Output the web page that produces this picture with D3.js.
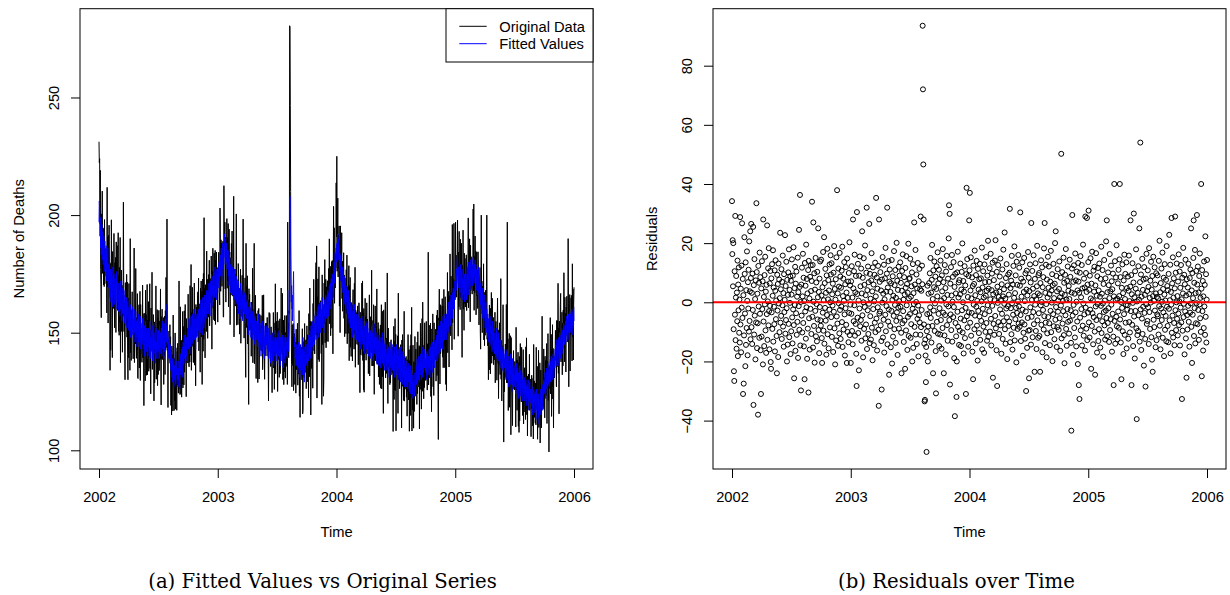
<!DOCTYPE html>
<html><head><meta charset="utf-8">
<script src="https://cdn.jsdelivr.net/npm/d3@7"></script>
<style>body{margin:0;background:#fff}svg{display:block}</style>
</head><body>
<svg id="c" width="1230" height="595"></svg>
<script>
// ---- data -------------------------------------------------------------
const startYear = 2002, frequency = 365;          // daily series, ts(start=2002, frequency=365)
const xTickLabels = [2002, 2003, 2004, 2005, 2006];
const deathTicks = [100, 150, 200, 250];
const residTicks = [-40, -20, 0, 20, 40, 60, 80];
const legendLabels = ["Original Data", "Fitted Values"];
const captions = ["(a) Fitted Values vs Original Series", "(b) Residuals over Time"];

const fitted2002 = [
197,206,203,191,199,186,194,183,190,196,181,188,193,179,186,191,176,184,189,178,185,174,187,180,172,183,177,186,171,179,174,
169,180,172,165,177,170,163,176,168,174,161,171,178,166,169,175,162,170,173,164,171,160,168,176,165,163,172,166,
166,159,171,163,168,157,165,172,160,167,162,155,169,161,158,164,172,157,166,160,154,168,159,163,156,165,158,152,163,157,161,
160,151,157,164,150,155,162,148,158,153,147,159,152,161,149,156,145,154,160,150,157,146,153,159,148,155,150,144,156,151,
153,146,158,149,144,155,150,143,157,148,152,141,154,147,156,145,151,158,143,149,153,140,148,155,146,150,142,152,147,139,151,
144,152,146,140,150,155,143,148,139,151,146,142,153,145,138,149,144,154,141,147,143,150,137,148,152,142,146,139,151,145,
149,142,151,145,139,153,146,141,150,144,145,152,140,148,155,143,150,146,139,154,147,142,151,156,144,149,153,146,162,157,145,
148,141,146,139,150,143,137,145,140,134,142,141,131,139,135,129,138,133,127,136,136,130,139,148,128,138,132,133,135,130,133,
127,135,130,138,133,126,139,134,141,132,137,143,135,131,144,138,146,136,141,149,139,144,137,150,143,140,148,145,138,151,
145,152,143,149,156,147,141,153,150,144,157,148,152,146,158,151,145,155,149,160,153,147,156,150,143,158,152,148,157,154,150,
158,151,160,154,148,162,156,150,159,164,153,157,163,149,158,165,155,160,152,161,157,166,154,159,163,156,161,168,158,164,
160,167,158,164,171,162,168,157,165,172,163,169,175,161,170,166,174,168,163,176,169,165,173,178,167,171,175,164,177,172,168];
const fitted2003 = [
175,169,178,172,180,167,176,175,183,174,179,186,172,181,177,188,180,174,185,182,189,192,184,179,190,186,180,188,183,177,185,
178,185,174,181,170,183,176,172,179,167,175,182,169,174,178,166,173,170,176,164,171,177,165,172,168,162,174,167,
163,170,160,166,172,158,167,162,169,156,165,171,160,164,157,168,161,166,155,163,170,159,164,158,167,161,154,166,160,156,163,
158,164,153,160,155,149,161,156,151,163,154,158,148,157,162,150,155,159,147,153,160,149,156,151,145,157,152,148,155,150,
147,155,150,144,153,158,146,151,142,149,154,145,150,140,152,147,143,155,148,141,150,146,153,139,148,144,151,142,149,153,145,
150,143,147,140,152,145,139,148,154,142,146,137,149,144,151,141,147,138,145,150,143,136,148,142,146,140,151,144,138,147,
141,148,144,137,150,146,140,145,151,139,143,148,136,147,142,150,138,144,149,141,135,146,142,148,139,144,137,149,143,140,146,
143,148,139,168,158,150,142,147,152,187,208,200,182,172,163,170,160,166,155,163,169,176,158,150,144,148,139,143,136,145,138,
136,144,139,133,142,146,135,140,131,143,138,134,145,137,130,141,136,143,132,148,139,134,142,129,137,144,133,139,136,141,
137,145,140,135,147,142,138,149,144,140,151,143,148,139,153,146,142,155,148,144,152,147,157,150,145,154,149,158,151,147,155,
157,150,159,153,161,148,156,162,151,158,154,163,150,157,160,153,158,165,152,159,162,155,150,161,157,164,154,160,166,158,
162,156,165,159,168,161,157,167,163,170,164,160,171,166,162,173,168,164,175,170,172,167,165,176,180,171,178,184,174,181,186];
const fitted2004 = [
180,188,183,186,192,185,190,181,187,178,184,176,183,179,172,181,175,169,178,173,167,176,170,164,174,168,162,171,166,160,169,
163,170,158,166,161,156,168,160,154,165,159,163,152,161,157,150,162,155,148,159,153,160,149,156,162,151,157,147,155,
152,158,147,155,150,145,157,151,146,153,159,144,150,156,148,143,154,149,157,145,151,147,155,142,150,153,146,141,152,148,155,
149,143,154,147,141,152,146,150,140,148,155,144,149,139,151,146,142,153,145,140,150,147,138,149,154,143,148,141,152,146,
140,148,143,137,150,145,139,147,142,136,149,144,138,146,141,135,148,143,139,145,137,150,141,136,146,142,134,145,140,147,138,
143,136,141,134,145,139,133,144,137,142,131,140,146,135,139,143,132,141,136,145,134,140,138,133,142,137,144,131,139,135,
141,134,139,145,132,137,142,130,140,135,143,131,138,134,144,129,137,141,133,139,128,136,142,131,137,133,140,127,135,138,130,
136,130,134,127,138,132,126,135,129,137,131,125,133,128,136,124,131,127,134,122,129,124,132,126,128,130,127,123,133,128,125,
131,136,128,134,139,127,133,137,130,140,135,129,138,132,141,134,137,130,142,136,131,139,144,133,137,141,135,143,138,134,
139,133,141,136,130,142,137,132,134,140,135,143,138,131,144,139,134,145,137,142,133,146,140,136,144,138,147,141,135,145,143,
146,140,149,143,138,151,145,141,148,153,144,139,150,146,155,142,149,152,145,157,148,143,154,150,146,158,151,147,156,152,
149,156,152,158,147,154,160,151,157,163,155,150,161,158,164,153,160,166,157,162,159,167,156,163,169,161,168,160,166,172,164];
const fitted2005 = [
166,172,168,177,174,180,183,175,171,178,169,176,172,165,174,179,170,167,176,171,164,173,169,177,166,172,168,175,163,170,174,
167,175,170,164,172,178,169,174,180,171,166,175,179,170,173,181,174,168,177,172,179,170,175,182,173,177,171,179,
174,181,176,179,171,177,168,175,173,166,172,178,167,170,164,173,168,162,171,165,160,167,158,164,169,156,163,160,155,166,157,
159,152,157,163,150,155,160,153,148,158,151,156,146,154,149,144,157,150,153,145,151,148,142,155,147,150,143,152,146,141,
145,150,141,147,139,152,144,140,148,137,146,142,150,138,144,141,136,147,139,143,135,145,140,134,142,137,144,133,143,139,136,
135,141,133,139,130,137,142,134,143,131,138,133,127,140,135,129,137,132,141,128,136,130,125,134,139,128,133,126,135,130,
132,127,136,130,124,134,129,137,126,131,135,128,122,133,127,131,136,125,130,134,123,129,132,126,121,130,127,133,124,128,131,
126,121,129,124,130,119,127,123,128,122,125,130,121,126,117,124,129,120,126,122,124,125,119,127,121,115,123,118,126,120,124,
122,116,125,119,113,121,126,117,123,122,119,124,114,120,111,118,122,115,121,126,118,124,120,128,122,117,127,123,130,124,
129,125,133,127,122,131,128,135,126,133,130,137,128,134,132,127,136,131,138,129,134,140,132,137,130,139,134,141,135,131,138,
140,135,143,138,145,136,142,147,139,144,137,146,141,148,136,145,150,142,147,139,149,144,152,141,146,151,143,149,154,146,
151,145,153,148,155,146,152,157,149,154,147,156,150,158,152,147,155,159,150,153,158,151,156,160,149,157,153,159,152,161,155];

const resid2002 = [
34.2,16.3,21.0,5.4,20.0,-9.1,-23.3,-26.6,10.5,-4.2,29.2,-12.8,1.6,8.9,-15.7,3.3,-6.4,14.1,-18.2,6.0,-2.7,11.8,-10.3,0.9,-13.6,28.8,-7.5,4.6,-16.9,12.4,-1.8,
26.7,-5.3,7.9,-31.0,2.4,-27.5,-11.2,22.0,9.6,-3.8,-21.6,13.5,-14.4,4.1,-8.7,17.2,0.5,-17.9,6.8,-2.1,11.0,-9.9,20.6,-6.3,3.7,24.0,-12.5,8.2,
26.5,-8.4,3.2,-14.1,9.7,-2.6,25.5,-34.7,5.8,-10.9,14.6,-4.5,1.1,-19.3,7.4,-6.8,33.5,10.2,-15.5,2.9,-7.1,-38.0,12.3,-1.4,6.6,-12.0,16.8,-3.9,8.5,-16.2,-31.0,
4.7,-11.6,13.9,-2.3,7.1,-21.0,28.0,-6.5,1.8,-14.8,9.2,-0.7,15.4,-9.5,3.6,-17.1,5.9,-4.0,26.0,-12.7,0.3,11.5,-7.8,18.3,-3.0,-15.9,6.4,-1.2,10.6,-20.2,
-22.5,8.1,-3.4,12.9,-9.0,2.2,17.6,-13.3,5.0,-1.5,-7.4,10.8,-16.6,3.9,14.2,-5.7,0.6,-11.4,-24.0,9.3,-2.8,6.2,-18.5,13.1,-0.4,7.7,-10.1,1.4,23.5,-6.9,4.4,
-4.6,11.2,-12.4,6.9,-1.0,15.8,-8.2,3.1,-15.0,9.5,-3.3,0.8,22.7,-10.6,5.5,-6.0,13.7,-2.0,-20.0,7.6,-14.3,2.5,10.1,-7.3,17.9,-11.8,4.2,-0.2,8.8,-17.5,
7.3,-9.8,2.6,14.5,-5.1,-13.9,9.0,-2.4,18.6,-7.7,-25.7,4.8,-0.9,12.0,-16.4,6.3,-3.7,10.4,-11.0,1.9,-6.6,15.1,-18.8,3.4,-1.3,24.5,-9.3,5.2,36.3,-14.6,0.1,
-29.8,6.0,-4.5,11.7,-10.2,2.0,16.4,-7.0,8.3,-14.9,0.4,-26.0,13.3,-3.1,5.6,-12.3,19.5,-1.7,7.9,-19.1,3.0,-8.9,10.9,-30.5,14.0,-5.4,1.3,-16.0,8.6,-2.2,12.5,
3.8,-10.7,7.2,34.0,-4.9,12.6,-15.3,27.0,0.2,-8.0,9.8,-20.4,4.3,-2.9,15.0,-11.5,6.7,-0.6,-13.2,10.3,-5.8,1.7,25.0,-9.4,3.5,-17.2,8.0,-1.6,13.8,-6.1,
-7.9,14.4,2.3,-12.1,-20.5,5.1,-3.5,17.0,-9.6,0.7,22.0,-14.0,6.5,-1.9,11.3,-6.2,3.2,-17.7,9.1,-4.3,18.1,-10.8,1.0,7.5,-15.6,4.0,-2.5,12.8,-8.5,0.0,15.9,
9.4,-5.0,13.2,-11.7,2.7,-1.1,6.3,-16.8,10.0,-3.2,19.0,-8.8,4.5,-21.0,0.9,7.8,-12.9,15.2,-4.8,37.9,-7.2,3.0,-14.7,11.4,-0.3,5.3,-10.5,16.7,-2.6,8.7,
-12.4,4.9,-1.4,10.7,-6.7,18.8,-15.1,2.1,8.0,-9.2,0.5,13.6,-4.1,-18.0,6.1,-2.0,11.9,-7.6,3.3,-20.5,14.8,-10.0,1.5,7.0,-13.5,9.9,-3.6,20.3,-11.1,5.7,-0.8];
const resid2003 = [
-20.5,7.1,-3.9,12.2,-9.7,1.6,-14.2,28.0,4.7,-6.4,10.5,-1.0,16.1,-11.3,3.4,-7.3,8.9,-17.4,-28.3,30.5,2.8,-5.2,13.0,-10.4,0.6,-23.0,9.0,-2.1,15.5,-8.1,5.4,
-6.0,11.4,-13.0,3.0,24.0,-4.4,8.3,-18.6,0.0,14.9,-9.0,5.9,-1.6,19.2,-12.2,2.4,-7.5,10.0,32.0,-15.8,4.1,-2.7,12.1,-10.7,6.8,-0.5,26.5,-13.8,
9.6,-4.7,1.2,-12.6,7.4,16.6,-8.6,3.7,-19.6,11.8,-2.3,6.0,-14.5,0.3,9.3,-6.9,13.4,-10.1,2.0,35.3,-5.5,8.4,-16.3,4.6,-1.7,12.3,-9.3,-35.0,28.0,-3.8,6.9,
-3.1,10.2,-7.8,4.0,-13.1,-29.5,7.7,-0.1,15.3,-11.9,2.9,-5.9,12.7,-17.0,1.0,8.1,-4.2,18.4,-9.8,3.6,-1.3,9.7,32.0,-14.2,5.0,-6.5,13.9,-2.4,-24.5,7.0,
11.1,-8.0,3.5,-15.2,6.4,-2.9,14.3,-20.7,0.8,8.8,-11.6,2.2,-4.6,17.3,-9.1,5.8,-0.9,10.9,-13.7,1.5,-6.3,20.1,-3.4,7.3,-17.8,4.2,-1.8,12.0,-8.9,0.4,9.0,
-5.2,13.5,-1.5,6.6,-10.3,-24.0,3.9,10.6,-7.1,16.2,-3.0,0.9,-13.4,8.5,-6.2,2.6,-22.5,11.6,4.9,-9.5,15.6,-1.0,6.2,-16.1,3.2,-4.9,19.8,-11.4,1.3,7.9,
8.2,-4.0,14.7,-12.0,1.9,-7.4,5.4,10.1,-20.0,-2.2,12.9,-15.4,3.1,-0.6,27.0,-8.3,6.0,-3.3,17.7,-10.9,0.1,9.4,-14.1,4.7,-5.6,13.3,-1.1,-18.3,7.1,-4.4,11.3,
-6.8,4.4,-11.0,29.0,-8.4,3.9,-2.6,12.4,6.1,93.5,72.0,46.6,28.0,-7.5,-14.0,-33.5,-33.0,-12.6,-18.0,-27.0,-15.1,-50.6,-9.8,-4.0,5.6,-20.0,-8.2,2.9,-11.7,6.5,-3.7,
9.8,-1.7,15.0,-5.3,3.3,-13.6,7.6,19.4,-8.0,1.1,-24.0,10.8,-2.8,5.1,13.8,-9.7,-0.4,8.7,-16.5,-30.8,4.5,12.2,-6.6,2.0,16.9,-10.6,6.4,-3.9,11.0,-14.8,
-2.0,7.9,-10.9,14.1,-6.0,0.6,-15.7,9.1,3.7,-8.7,18.0,-3.5,6.8,-24.0,1.4,-11.2,12.6,-4.3,4.8,-17.6,10.4,-0.7,15.7,-7.7,2.5,-13.0,8.0,-1.4,21.6,32.8,-6.0,
29.9,-27.8,6.3,-4.1,11.9,-9.4,2.3,16.0,-13.3,0.2,8.6,-5.0,13.6,-1.6,-18.9,5.2,-38.5,9.6,-7.0,3.0,-11.5,-32.0,-20.0,10.1,-3.2,17.1,-8.3,1.6,6.7,-14.4,
7.5,-9.6,2.7,13.1,-5.5,-14.8,4.3,10.3,-2.7,19.9,-10.2,0.0,7.2,-17.3,3.6,-6.1,12.2,-12.1,5.7,-1.9,-31.0,9.5,38.7,-4.7,14.6,-8.5,1.8,-15.0,8.9,-3.4,27.7];
const resid2004 = [
10.8,37.0,-6.9,4.0,15.2,-11.3,1.3,-3.6,8.4,-16.7,5.5,-26.0,12.4,-0.8,6.2,-9.1,17.5,-4.5,2.4,-13.9,9.2,-1.5,14.0,-7.9,0.5,-19.7,11.3,-2.9,4.3,-10.4,7.8,
-4.8,13.0,-12.7,3.4,8.1,-6.3,0.3,18.5,-15.9,5.0,-2.2,10.5,-8.2,1.6,-17.1,12.8,-4.0,6.8,-10.0,2.2,15.3,-7.0,3.9,-13.0,9.0,-1.0,20.8,-11.7,4.6,
6.9,-3.0,11.5,-9.9,1.0,16.4,-5.6,-14.6,4.1,9.7,-1.2,13.4,-25.5,2.7,-7.3,7.5,-11.0,0.7,14.1,-4.6,21.0,-8.8,3.3,-16.2,10.3,-28.3,5.3,-0.2,12.6,-6.7,1.8,
-10.7,3.6,8.7,-2.4,14.8,-7.8,0.9,-17.4,6.1,-3.9,11.1,-12.4,2.0,17.8,-6.4,4.4,-0.5,23.6,-9.1,1.2,-14.0,8.2,-2.1,12.9,-5.1,-19.2,5.7,-1.3,9.4,-8.0,
2.6,-6.5,10.0,31.6,-13.5,4.8,-2.0,7.3,-10.8,15.7,-0.3,-16.0,6.0,-4.2,12.3,-8.6,1.5,18.9,-12.9,3.1,-5.7,9.1,-1.9,-20.3,13.7,-3.6,5.9,-9.0,0.3,16.0,-7.2,
-1.4,11.7,-8.3,5.6,30.4,-4.3,-13.1,8.0,1.9,-6.8,13.5,-2.5,-18.1,7.0,-10.3,3.5,15.0,-7.5,0.4,-12.3,9.8,-3.1,-30.0,4.3,10.7,-15.4,2.3,-5.3,17.0,-9.6,
8.3,-25.7,3.8,-9.4,12.8,-1.7,6.7,-14.3,26.8,-4.9,0.8,10.6,-11.8,4.6,-3.3,15.9,-7.4,2.1,-23.5,7.9,-0.8,13.2,-9.7,1.0,-15.8,5.4,19.1,-6.1,3.0,-12.0,9.2,
-3.7,9.9,-11.4,2.4,-23.5,6.5,-1.0,14.2,-7.6,0.1,11.8,-16.9,5.1,-2.6,8.5,-9.2,18.2,-4.7,26.8,-13.8,3.2,-6.9,12.7,-0.6,-18.6,7.7,-10.5,1.6,15.4,-5.0,4.9,
12.1,-7.1,2.8,-14.5,7.0,-2.9,17.4,-10.1,4.0,-0.1,9.5,-19.9,5.8,-4.0,13.0,-8.1,1.4,-12.5,6.3,20.0,-5.9,24.0,-1.6,8.9,-15.1,3.7,-8.4,11.2,-3.2,0.6,
-9.3,4.5,13.8,-5.4,1.7,-16.4,8.3,-1.1,50.2,-12.2,3.0,10.2,-7.2,0.5,-3.0,15.1,-11.1,6.6,-20.6,2.5,9.3,-4.4,18.0,-9.0,0.9,-14.7,7.2,-2.3,12.1,-6.6,3.9,
5.5,-10.6,1.1,14.4,-6.2,8.6,-2.7,-13.7,-43.4,3.3,11.4,29.5,-4.5,-17.8,6.9,-0.9,12.5,-8.7,2.9,-11.9,16.5,-3.4,7.4,-14.9,0.2,10.4,-6.5,4.0,-20.9,13.3,
7.0,-28.0,3.2,-32.7,10.0,-5.2,15.6,-9.5,1.7,-2.3,12.6,-14.6,4.7,-7.9,19.5,-0.4,-11.3,8.0,-4.1,5.0,-16.3,29.0,-1.8,9.9,-8.9,3.5,28.5,-12.8,6.0,-3.5,13.6];
const resid2005 = [
31.0,-6.8,4.2,-11.9,9.0,-2.5,14.9,1.3,-22.5,6.3,-8.0,17.1,-3.7,0.7,-14.2,10.7,-5.0,3.6,12.0,-9.9,-24.5,5.7,-1.4,16.6,-6.0,2.2,-17.0,8.8,-0.6,11.6,-13.1,
4.0,-9.1,13.1,-4.6,1.9,-15.3,7.9,-1.2,18.8,-10.4,2.9,-6.4,10.9,-0.4,-18.4,6.2,-3.3,14.3,-7.8,0.6,-12.6,8.1,-2.8,20.6,-5.3,27.7,-11.5,3.4,
-7.0,10.1,-2.0,5.8,-13.4,1.4,16.3,-9.4,3.7,-5.7,12.4,-0.8,7.1,-16.7,4.4,-3.9,9.7,-11.6,-28.0,2.0,40.0,-6.3,13.9,-14.0,0.8,8.4,-4.9,19.3,-8.1,1.2,-12.5,
6.4,-3.1,11.0,-8.6,2.1,14.5,40.0,-5.8,8.5,-13.6,0.1,-26.0,4.9,-1.9,12.8,-9.8,3.1,-17.5,7.4,-4.0,16.1,-11.0,1.1,9.6,-6.9,-0.9,13.5,-15.6,4.8,-2.5,
-1.0,8.7,-12.3,3.9,15.8,-6.7,0.4,-10.2,5.3,27.7,-3.0,9.2,-28.0,2.7,-7.6,13.2,-0.2,-14.8,6.7,30.0,-4.8,1.7,-19.0,10.5,-2.9,4.6,17.9,-8.8,-39.5,0.3,-11.1,
3.2,-9.7,12.2,-4.4,0.9,25.0,-13.3,6.8,54.0,-2.4,9.4,-16.1,1.9,-5.5,14.7,-10.7,4.2,-1.5,7.7,-21.4,11.9,-3.6,2.5,-12.4,-28.5,8.0,-0.7,16.4,-7.3,3.8,
-6.3,10.8,-1.7,5.2,-14.1,18.3,-3.3,1.5,-9.0,7.3,-0.1,13.7,-11.8,4.3,-19.4,8.9,-23.5,2.1,15.4,-5.9,0.5,-8.4,11.8,-2.8,6.0,-15.2,3.0,9.8,-12.8,1.8,-4.1,
9.1,-4.7,1.3,-10.9,14.0,-1.3,20.8,-7.9,3.4,-15.9,6.5,-2.1,11.4,-6.0,0.2,16.8,-12.0,4.5,-3.4,8.3,-18.2,2.6,12.9,-9.3,0.6,-4.6,7.6,-13.2,19.0,-1.5,5.5,
-8.0,4.1,-13.5,9.6,-2.2,22.8,-6.1,0.7,12.7,-17.3,3.5,-0.8,28.5,-10.3,6.4,-4.5,15.2,-11.9,1.6,8.1,-7.0,-14.5,4.7,29.0,-2.7,10.0,-9.4,0.0,13.1,-5.6,
2.1,-11.2,7.0,-3.8,16.2,-7.7,0.3,10.4,-14.6,4.9,-1.8,12.6,-6.8,1.0,-32.7,8.3,-9.6,3.0,18.4,-5.0,-0.5,9.3,-17.6,6.1,-3.1,14.4,-12.2,2.3,-25.5,7.8,-4.3,
-9.2,5.0,-1.2,13.0,-6.6,2.8,-15.0,8.2,-3.5,11.1,-0.4,25.0,-8.3,4.0,-20.5,9.9,-4.2,1.4,15.0,27.7,-11.4,6.6,-2.0,17.7,-13.9,3.1,-7.1,10.6,-0.3,29.5,
6.0,-7.4,12.1,-2.6,3.3,-12.7,8.9,-0.7,16.5,-5.4,1.5,-10.0,40.0,4.6,-25.0,10.9,-3.0,7.2,-16.3,2.0,-8.7,13.8,-1.4,5.9,-11.0,22.3,-4.9,9.5,-13.6,0.9,14.3];

// ---- derived series ----------------------------------------------------
const fitted = [].concat(fitted2002, fitted2003, fitted2004, fitted2005);
const residuals = [].concat(resid2002, resid2003, resid2004, resid2005);
const n = Math.min(fitted.length, residuals.length);
const series = d3.range(n).map(i => ({
  t: startYear + i / frequency,
  fit: fitted[i],
  res: residuals[i],
  obs: fitted[i] + residuals[i]
}));

// ---- layout -------------------------------------------------------------
const FONT = "'Liberation Sans', Arial, Helvetica, sans-serif";
const FS = 14.7;
const svg = d3.select("#c");
const panels = [
  {x0: 80, x1: 593, y0: 8.7, y1: 469, cx: 322.5},
  {x0: 713, x1: 1226, y0: 8.7, y1: 469, cx: 956.5}
];
function rExt(ext) { const r = ext[1] - ext[0]; return [ext[0] - 0.04 * r, ext[1] + 0.04 * r]; }
const tExt = d3.extent(series, d => d.t);

function frame(p, xs, ys, yTicks, yTitle) {
  const g = svg.append("g");
  const ax = g.append("g").attr("transform", `translate(0,${p.y1})`)
    .call(d3.axisBottom(xs).tickValues(xTickLabels).tickFormat(d3.format("d")).tickSize(9).tickSizeOuter(0));
  ax.select(".domain").remove();
  ax.selectAll("line").attr("stroke", "#000").attr("stroke-width", 1);
  ax.selectAll("text").attr("y", 32.7).attr("dy", null)
    .style("font-family", FONT).style("font-size", FS + "px").attr("fill", "#000");
  const ay = g.append("g").attr("transform", `translate(${p.x0},0)`)
    .call(d3.axisLeft(ys).tickValues(yTicks).tickFormat(d3.format("d")).tickSize(9).tickSizeOuter(0));
  ay.select(".domain").remove();
  ay.selectAll("line").attr("stroke", "#000").attr("stroke-width", 1);
  ay.selectAll("text").attr("x", 0).attr("y", 0).attr("dy", null)
    .attr("text-anchor", "middle").attr("transform", "translate(-21,0) rotate(-90)")
    .style("font-family", FONT).style("font-size", FS + "px").attr("fill", "#000");
  g.append("rect").attr("x", p.x0).attr("y", p.y0).attr("width", p.x1 - p.x0).attr("height", p.y1 - p.y0)
    .attr("fill", "none").attr("stroke", "#000").attr("stroke-width", 1);
  g.append("text").attr("x", (p.x0 + p.x1) / 2).attr("y", 537.3).attr("text-anchor", "middle")
    .style("font-family", FONT).style("font-size", FS + "px").text("Time");
  g.append("text").attr("transform", `translate(${p.x0 - 56},${(p.y0 + p.y1) / 2}) rotate(-90)`)
    .attr("text-anchor", "middle").style("font-family", FONT).style("font-size", FS + "px").text(yTitle);
}

// ---- panel (a) ------------------------------------------------------------
{
  const p = panels[0];
  const x = d3.scaleLinear().domain(rExt(tExt)).range([p.x0, p.x1]);
  const yExt = d3.extent(series.flatMap(d => [d.obs, d.fit]));
  const y = d3.scaleLinear().domain(rExt(yExt)).range([p.y1, p.y0]);
  svg.append("path").datum(series)
    .attr("d", d3.line().x(d => x(d.t)).y(d => y(d.obs)))
    .attr("fill", "none").attr("stroke", "#000").attr("stroke-width", 1);
  svg.append("path").datum(series)
    .attr("d", d3.line().x(d => x(d.t)).y(d => y(d.fit)))
    .attr("fill", "none").attr("stroke", "#0000FF").attr("stroke-width", 0.9);
  frame(p, x, y, deathTicks, "Number of Deaths");
  const lg = svg.append("g");
  lg.append("rect").attr("x", 446).attr("y", p.y0).attr("width", p.x1 - 446).attr("height", 62 - p.y0)
    .attr("fill", "#fff").attr("stroke", "#000").attr("stroke-width", 1);
  const colors = ["#000", "#0000FF"];
  legendLabels.forEach((lab, k) => {
    const yy = 26.3 + k * 17.4;
    lg.append("line").attr("x1", 459.3).attr("x2", 486.7).attr("y1", yy).attr("y2", yy)
      .attr("stroke", colors[k]).attr("stroke-width", 1);
    lg.append("text").attr("x", 499.3).attr("y", yy + 5.3)
      .style("font-family", FONT).style("font-size", FS + "px").text(lab);
  });
}

// ---- panel (b) ------------------------------------------------------------
{
  const p = panels[1];
  const x = d3.scaleLinear().domain(rExt(tExt)).range([p.x0, p.x1]);
  const y = d3.scaleLinear().domain(rExt(d3.extent(series, d => d.res))).range([p.y1, p.y0]);
  svg.append("g").selectAll("circle").data(series).join("circle")
    .attr("cx", d => x(d.t)).attr("cy", d => y(d.res)).attr("r", 2.5)
    .attr("fill", "none").attr("stroke", "#000").attr("stroke-width", 1);
  svg.append("line").attr("x1", p.x0).attr("x2", p.x1).attr("y1", y(0)).attr("y2", y(0))
    .attr("stroke", "#FF0000").attr("stroke-width", 2);
  frame(p, x, y, residTicks, "Residuals");
}

// ---- captions -------------------------------------------------------------
captions.forEach((c, k) => {
  svg.append("text").attr("x", panels[k].cx).attr("y", 587.5).attr("text-anchor", "middle")
    .style("font-family", "'DejaVu Serif', serif").style("font-size", "19.7px").text(c);
});
</script>
</body></html>
